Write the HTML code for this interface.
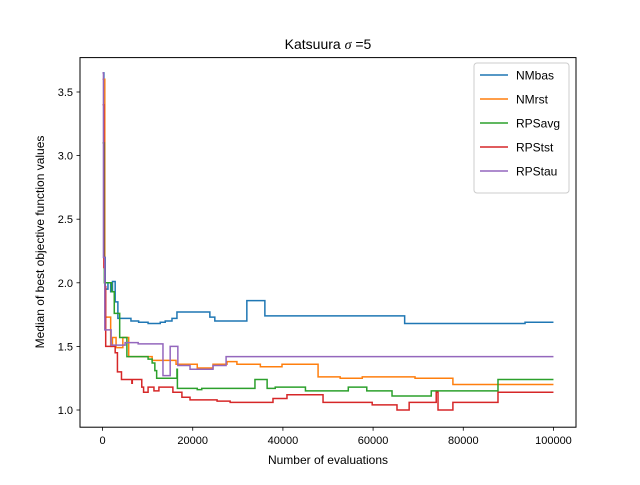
<!DOCTYPE html>
<html><head><meta charset="utf-8">
<style>
html,body{margin:0;padding:0;background:#fff;}
svg text{font-family:"Liberation Sans",sans-serif;fill:#000;}
</style></head>
<body>
<svg id="chart" width="640" height="480" xmlns="http://www.w3.org/2000/svg">
<rect width="640" height="480" fill="#fff"/>
<g id="plot"></g>
<rect x="80" y="57.6" width="496" height="369.6" fill="none" stroke="#000" stroke-width="1"/>
<g id="axes"></g>
<text x="328" y="49" font-size="14" text-anchor="middle">Katsuura <tspan font-family="Liberation Serif" font-style="italic">σ</tspan> =5</text>
<text x="328" y="464" font-size="12" text-anchor="middle">Number of evaluations</text>
<text transform="translate(44,242) rotate(-90)" font-size="12" text-anchor="middle">Median of best objective function values</text>
<g id="legend"></g>
</svg>
<script>
const seriesNames = ["NMbas","NMrst","RPSavg","RPStst","RPStau"];
const seriesColors = ["#1f77b4","#ff7f0e","#2ca02c","#d62728","#9467bd"];
const nmbasX = [0,300,600,1200,1800,2200,2800,3400,6300,8000,10100,12800,13900,15400,16500,23800,24900,32000,36000,67000,93700,100000];
const nmbasY = [3.65,2.2,1.95,2.0,1.93,2.01,1.85,1.72,1.70,1.69,1.68,1.69,1.70,1.72,1.77,1.73,1.70,1.86,1.74,1.68,1.69,1.69];
const nmrstX = [0,500,1800,2200,3000,4500,5800,11000,16300,21000,24500,27600,29800,35000,39800,47800,52700,57600,69300,77700,100000];
const nmrstY = [3.6,1.73,1.50,1.57,1.49,1.57,1.42,1.39,1.36,1.33,1.36,1.38,1.36,1.34,1.36,1.26,1.25,1.26,1.25,1.20,1.20];
const rpsavgX = [0,400,2000,2600,3800,5400,10100,11000,11600,12000,16500,16600,21000,22000,33800,36500,38300,45000,54500,58600,64200,72900,87700,100000];
const rpsavgY = [3.1,2.0,1.93,1.76,1.57,1.42,1.40,1.37,1.31,1.25,1.32,1.17,1.16,1.17,1.24,1.17,1.18,1.15,1.18,1.15,1.11,1.15,1.24,1.24];
const rpststX = [0,300,500,700,2800,3300,4200,6500,6600,8700,9100,10100,11400,12500,15600,17600,19400,25400,28300,37800,40900,48900,59800,65300,68000,74000,74400,77700,87700,100000];
const rpststY = [3.4,2.12,1.97,1.5,1.45,1.30,1.24,1.21,1.24,1.18,1.14,1.18,1.15,1.18,1.14,1.10,1.08,1.07,1.06,1.09,1.12,1.06,1.04,1.00,1.06,1.14,1.00,1.06,1.14,1.14];
const rpstauX = [0,200,500,1900,5000,7900,13400,15000,16700,19400,24500,27400,100000];
const rpstauY = [3.65,2.2,1.63,1.51,1.53,1.52,1.27,1.50,1.35,1.32,1.35,1.42,1.42];
const xTicks = [0,20000,40000,60000,80000,100000];
const yTicks = [1.0,1.5,2.0,2.5,3.0,3.5];

const NS="http://www.w3.org/2000/svg";
const X0=80,X1=576,Y0=57.6,Y1=427.2;
const xMin=-5000,xMax=105000,yMin=0.8648,yMax=3.7704;
function sx(v){return X0+(v-xMin)/(xMax-xMin)*(X1-X0);}
function sy(v){return Y1-(v-yMin)/(yMax-yMin)*(Y1-Y0);}
function mk(tag,attrs,parent){const e=document.createElementNS(NS,tag);for(const k in attrs)e.setAttribute(k,attrs[k]);parent.appendChild(e);return e;}

const plot=document.getElementById('plot');
const all=[[nmbasX,nmbasY],[nmrstX,nmrstY],[rpsavgX,rpsavgY],[rpststX,rpststY],[rpstauX,rpstauY]];
all.forEach((s,i)=>{
  const xs=s[0],ys=s[1];
  let d="M"+sx(xs[0]).toFixed(2)+","+sy(ys[0]).toFixed(2);
  for(let k=1;k<xs.length;k++){
    d+=" H"+sx(xs[k]).toFixed(2)+" V"+sy(ys[k]).toFixed(2);
  }
  const p=mk('path',{d:d,fill:'none',stroke:seriesColors[i],'stroke-width':1.5,'stroke-linejoin':'miter'},plot);
  
  
});

const axes=document.getElementById('axes');
xTicks.forEach(t=>{
  const x=sx(t);
  const l=mk('line',{x1:x,x2:x,y1:Y1,y2:Y1+3.5,stroke:'#000','stroke-width':0.8},axes);
  
  
  const tx=mk('text',{x:x,y:Y1+17,'font-size':11,'text-anchor':'middle'},axes);
  tx.textContent=String(t);
  
  
});
yTicks.forEach(t=>{
  const y=sy(t);
  const l=mk('line',{x1:X0-3.5,x2:X0,y1:y,y2:y,stroke:'#000','stroke-width':0.8},axes);
  
  
  const tx=mk('text',{x:X0-7,y:y+4,'font-size':11,'text-anchor':'end'},axes);
  tx.textContent=t.toFixed(1);
  
  
});

const lg=document.getElementById('legend');
const box=mk('rect',{x:474,y:63,width:95,height:130,rx:3,fill:'#fff','fill-opacity':0.8,stroke:'#ccc','stroke-width':1},lg);


seriesNames.forEach((n,i)=>{
  const y=75+i*24;
  const g=mk('g',{},lg);
  
  
  mk('line',{x1:480,x2:508,y1:y,y2:y,stroke:seriesColors[i],'stroke-width':1.5},g);
  const t=mk('text',{x:516,y:y+4.5,'font-size':12},g);
  t.textContent=n;
});
</script>
</body></html>
